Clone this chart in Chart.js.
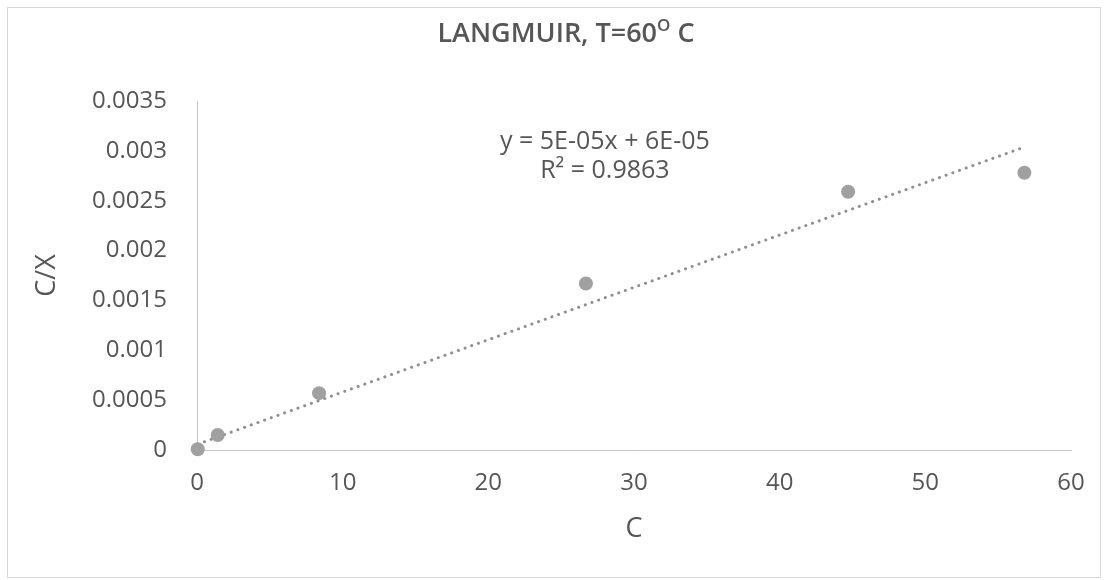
<!DOCTYPE html>
<html>
<head>
<meta charset="utf-8">
<script src="https://cdn.jsdelivr.net/npm/chart.js@4.4.1/dist/chart.umd.min.js"></script>
<style>
  html, body { margin: 0; background: #ffffff; }
  canvas { display: block; }
</style>
</head>
<body>
<canvas id="chart" width="1108" height="580"></canvas>
<script>
// Langmuir isotherm at 60 °C: equilibrium concentration C against C/X
const concC   = [0.05, 1.42, 8.38, 26.7, 44.7, 56.8];
const ratioCX = [0.000007, 0.00015, 0.00057, 0.00167, 0.00259, 0.00278];

// Linear trendline y = a·x + b and its goodness of fit
const trendSlope     = 5.25e-5;
const trendIntercept = 5.6e-5;
const rSquared       = 0.9863;

// Axis ticks
const xTicks = [0, 10, 20, 30, 40, 50, 60];
const yTicks = [0, 0.0005, 0.001, 0.0015, 0.002, 0.0025, 0.003, 0.0035];

const FONT = "'Open Sans', 'Noto Sans', sans-serif";
const INK = '#565656';

// Spreadsheet-style coefficient text, e.g. 5E-05
function sciLabel(v) {
  const [m, e] = v.toExponential(0).split('e');
  const n = Number(e);
  return m + 'E' + (n < 0 ? '-' : '+') + String(Math.abs(n)).padStart(2, '0');
}

const trendX = [Math.min(...concC), Math.max(...concC)];
const trendData = trendX.map(x => ({ x, y: trendSlope * x + trendIntercept }));
const pointData = concC.map((x, i) => ({ x, y: ratioCX[i] }));

const eqLine1 = 'y = ' + sciLabel(trendSlope) + 'x + ' + sciLabel(trendIntercept);
const eqLine2 = 'R\u00B2 = ' + rSquared.toFixed(4);

const decorations = {
  id: 'decorations',
  beforeDraw(chart) {
    const ctx = chart.ctx;
    ctx.save();
    ctx.fillStyle = '#ffffff';
    ctx.fillRect(0, 0, chart.width, chart.height);
    ctx.strokeStyle = '#d6d6d6';
    ctx.lineWidth = 1;
    ctx.strokeRect(7.5, 7.5, chart.width - 15, chart.height - 10);
    ctx.restore();
  },
  afterDraw(chart) {
    const ctx = chart.ctx;
    const xs = chart.scales.x, ys = chart.scales.y;
    ctx.save();
    ctx.fillStyle = INK;
    ctx.textBaseline = 'middle';

    // Title with superscript degree mark
    const main = 'LANGMUIR, T=60', sup = 'O', tail = ' C';
    const big = '600 27px ' + FONT, small = '600 17px ' + FONT;
    ctx.font = big;
    const w1 = ctx.measureText(main).width;
    const w3 = ctx.measureText(tail).width;
    ctx.font = small;
    const w2 = ctx.measureText(sup).width;
    const cx = 566;
    let x = cx - (w1 + w2 + w3) / 2;
    const ty = 34;
    ctx.textAlign = 'left';
    ctx.font = big;
    ctx.fillText(main, x, ty);
    x += w1;
    ctx.font = small;
    ctx.fillText(sup, x, ty - 8);
    x += w2;
    ctx.font = big;
    ctx.fillText(tail, x, ty);

    // Trendline equation
    ctx.textAlign = 'center';
    ctx.font = '25px ' + FONT;
    const ex = xs.getPixelForValue(28.0);
    ctx.fillText(eqLine1, ex, ys.getPixelForValue(0.00309));
    ctx.fillText(eqLine2, ex, ys.getPixelForValue(0.0028));
    ctx.restore();
  }
};

new Chart(document.getElementById('chart'), {
  type: 'scatter',
  data: {
    datasets: [
      {
        label: 'C/X',
        data: pointData,
        order: 1,
        clip: false,
        pointRadius: 7,
        pointBackgroundColor: '#a0a0a0',
        pointBorderWidth: 0,
        showLine: false
      },
      {
        type: 'line',
        label: 'Linear (C/X)',
        data: trendData,
        order: 2,
        borderColor: '#8f8f8f',
        borderWidth: 3,
        borderDash: [0.1, 7],
        borderCapStyle: 'round',
        pointRadius: 0,
        fill: false
      }
    ]
  },
  options: {
    responsive: false,
    animation: false,
    events: [],
    layout: { padding: { top: 101, right: 37, bottom: 0, left: 0 } },
    plugins: { legend: { display: false }, tooltip: { enabled: false }, title: { display: false } },
    scales: {
      x: {
        type: 'linear',
        min: 0,
        max: 60,
        afterBuildTicks(s) { s.ticks = xTicks.map(v => ({ value: v })); },
        afterFit(s) { s.height = 130; },
        grid: { display: false, drawTicks: false },
        border: { display: true, color: '#c4c4c4', width: 1 },
        ticks: { color: INK, padding: 19, font: { family: FONT, size: 24 } },
        title: { display: true, text: 'C', color: INK, font: { family: FONT, size: 27 }, padding: { top: 0, bottom: 34 } }
      },
      y: {
        type: 'linear',
        min: 0,
        max: 0.0035,
        afterBuildTicks(s) { s.ticks = yTicks.map(v => ({ value: v })); },
        afterFit(s) { s.width = 197; },
        grid: { display: false, drawTicks: false },
        border: { display: true, color: '#c4c4c4', width: 1 },
        ticks: {
          color: INK, padding: 30, font: { family: FONT, size: 24 },
          callback: v => String(Number(v.toFixed(4)))
        },
        title: { display: true, text: 'C/X', color: INK, font: { family: FONT, size: 27 }, padding: { top: 31, bottom: 0 } }
      }
    }
  },
  plugins: [decorations]
});
</script>
</body>
</html>
